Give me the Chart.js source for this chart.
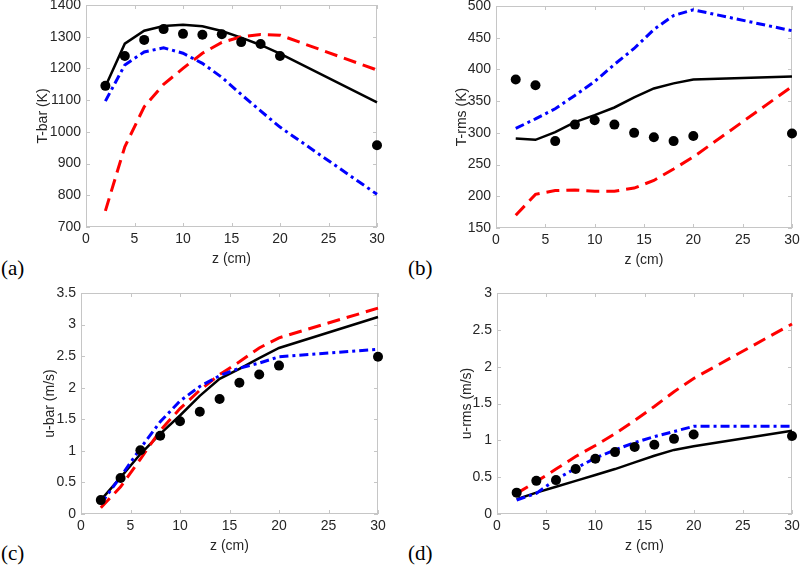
<!DOCTYPE html>
<html>
<head>
    <title>Profiles</title>
    <style>
        body { margin: 0; background: #fff; }
        #page { position: relative; width: 800px; height: 566px; overflow: hidden; background: #fff; }
        #page canvas { position: absolute; }
        .tag { position: absolute; font-family: "Liberation Serif", "DejaVu Serif", serif; font-size: 21px; line-height: 1; color: #000; }
    </style>
</head>
<body>
<div id="page">
    <canvas id="chartA"></canvas>
    <canvas id="chartB"></canvas>
    <canvas id="chartC"></canvas>
    <canvas id="chartD"></canvas>
    <div class="tag" style="left:1px; top:258px;">(a)</div>
    <div class="tag" style="left:408px; top:258px;">(b)</div>
    <div class="tag" style="left:1px; top:543px;">(c)</div>
    <div class="tag" style="left:408px; top:543px;">(d)</div>
</div>
<script src="https://cdn.jsdelivr.net/npm/chart.js"></script>
<script>
    // axial stations (cm)
    const zPos = [2, 4, 6, 8, 10, 12, 14, 16, 18, 20, 30];

    // (a) mean temperature (K)
    const tBarExp     = [1145, 1239, 1290, 1324, 1309, 1306, 1308, 1283, 1277, 1239, 958];
    const tBarSolid   = [1143, 1278, 1319, 1334, 1338, 1333, 1318, 1297, 1274, 1247, 1093];
    const tBarDashed  = [751, 953, 1079, 1150, 1200, 1248, 1282, 1300, 1307, 1305, 1195];
    const tBarDashDot = [1097, 1211, 1252, 1265, 1248, 1216, 1172, 1118, 1066, 1015, 803];

    // (b) rms temperature (K)
    const tRmsExp     = [384, 375, 287, 313, 320, 313, 300, 293, 287, 295, 299];
    const tRmsSolid   = [291, 289, 301, 317, 328, 340, 356, 370, 378, 384, 389];
    const tRmsDashed  = [170, 203, 209, 210, 208, 208, 213, 225, 243, 262, 373];
    const tRmsDashDot = [307, 322, 338, 359, 381, 408, 433, 463, 485, 494, 461];

    // (c) mean velocity (m/s)
    const uBarExp     = [0.22, 0.57, 1.01, 1.24, 1.47, 1.62, 1.82, 2.08, 2.21, 2.35, 2.49];
    const uBarSolid   = [0.22, 0.58, 0.95, 1.27, 1.56, 1.87, 2.14, 2.30, 2.47, 2.63, 3.12];
    const uBarDashed  = [0.10, 0.43, 0.87, 1.32, 1.67, 1.96, 2.21, 2.41, 2.63, 2.79, 3.26];
    const uBarDashDot = [0.16, 0.59, 1.04, 1.46, 1.79, 2.02, 2.19, 2.31, 2.39, 2.49, 2.61];

    // (d) rms velocity (m/s)
    const uRmsExp     = [0.29, 0.45, 0.46, 0.61, 0.75, 0.84, 0.91, 0.94, 1.02, 1.08, 1.06];
    const uRmsSolid   = [0.20, 0.29, 0.37, 0.45, 0.53, 0.61, 0.70, 0.79, 0.87, 0.92, 1.13];
    const uRmsDashed  = [0.28, 0.44, 0.61, 0.78, 0.93, 1.09, 1.27, 1.46, 1.66, 1.84, 2.58];
    const uRmsDashDot = [0.19, 0.28, 0.47, 0.62, 0.76, 0.87, 0.97, 1.05, 1.12, 1.19, 1.19];

    const axisGray = '#c6c6c6';
    const textGray = '#262626';
    const fontName = '"Liberation Sans", Arial, sans-serif';

    function pts(ys) {
        return zPos.map((z, i) => ({x: z, y: ys[i]}));
    }

    // matlab style box with inward ticks on all four sides
    const boxTicks = {
        id: 'boxTicks',
        beforeDatasetsDraw(chart) {
            const {ctx, chartArea: a, scales} = chart;
            ctx.save();
            ctx.strokeStyle = axisGray;
            ctx.lineWidth = 1;
            ctx.strokeRect(a.left + 0.5, a.top + 0.5, a.right - a.left - 1, a.bottom - a.top - 1);
            ctx.beginPath();
            scales.x.ticks.forEach(t => {
                const px = Math.round(scales.x.getPixelForValue(t.value)) + 0.5;
                ctx.moveTo(px, a.bottom); ctx.lineTo(px, a.bottom - 4);
                ctx.moveTo(px, a.top); ctx.lineTo(px, a.top + 4);
            });
            scales.y.ticks.forEach(t => {
                const py = Math.round(scales.y.getPixelForValue(t.value)) + 0.5;
                ctx.moveTo(a.left, py); ctx.lineTo(a.left + 4, py);
                ctx.moveTo(a.right, py); ctx.lineTo(a.right - 4, py);
            });
            ctx.stroke();
            ctx.restore();
        }
    };

    function makePanel(id, box, titleX, yLabel, yMin, yMax, yStep, solid, dashed, dashDot, exp) {
        const canvas = document.getElementById(id);
        const left = Math.round(titleX - 12.4);
        const top = box.top - 25;
        const right = box.right + 18;
        const bottom = box.bottom + 45;
        canvas.width = right - left;
        canvas.height = bottom - top;
        canvas.style.left = left + 'px';
        canvas.style.top = top + 'px';

        return new Chart(canvas, {
            type: 'scatter',
            data: {
                datasets: [
                    {data: pts(exp), showLine: false, pointRadius: 5, pointBackgroundColor: '#000',
                        pointBorderColor: '#000', pointBorderWidth: 0, clip: false, order: 0},
                    {data: pts(solid), showLine: true, borderColor: '#000', borderWidth: 2.5,
                        pointRadius: 0, clip: false, order: 3},
                    {data: pts(dashed), showLine: true, borderColor: '#ff0000', borderWidth: 3,
                        borderDash: [13, 7], pointRadius: 0, clip: false, order: 2},
                    {data: pts(dashDot), showLine: true, borderColor: '#0000ff', borderWidth: 3,
                        borderDash: [9, 4, 3, 4], pointRadius: 0, clip: false, order: 1}
                ]
            },
            options: {
                responsive: false,
                animation: false,
                layout: {padding: {top: 25, right: 18, left: 0, bottom: 0}},
                plugins: {legend: {display: false}, tooltip: {enabled: false}},
                scales: {
                    x: {
                        type: 'linear', min: 0, max: 30,
                        afterFit: s => { s.height = 45; },
                        grid: {display: false, drawTicks: false},
                        border: {display: false},
                        ticks: {stepSize: 5, padding: 4, color: textGray, font: {family: fontName, size: 14},
                            callback: v => String(v)},
                        title: {display: true, text: 'z (cm)', color: textGray, font: {family: fontName, size: 14}}
                    },
                    y: {
                        min: yMin, max: yMax,
                        afterFit: s => { s.width = box.left - left; },
                        grid: {display: false, drawTicks: false},
                        border: {display: false},
                        ticks: {stepSize: yStep, padding: 5, color: textGray, font: {family: fontName, size: 14},
                            callback: v => String(v)},
                        title: {display: true, text: yLabel, color: textGray, font: {family: fontName, size: 14}}
                    }
                }
            },
            plugins: [boxTicks]
        });
    }

    makePanel('chartA', {left: 86, right: 377, top: 5, bottom: 227}, 43, 'T-bar (K)', 700, 1400, 100,
        tBarSolid, tBarDashed, tBarDashDot, tBarExp);
    makePanel('chartB', {left: 496, right: 792, top: 6, bottom: 228}, 462, 'T-rms (K)', 150, 500, 50,
        tRmsSolid, tRmsDashed, tRmsDashDot, tRmsExp);
    makePanel('chartC', {left: 81, right: 378, top: 293, bottom: 514}, 50, 'u-bar (m/s)', 0, 3.5, 0.5,
        uBarSolid, uBarDashed, uBarDashDot, uBarExp);
    makePanel('chartD', {left: 497, right: 792, top: 293, bottom: 514}, 467, 'u-rms (m/s)', 0, 3, 0.5,
        uRmsSolid, uRmsDashed, uRmsDashDot, uRmsExp);
</script>
</body>
</html>
